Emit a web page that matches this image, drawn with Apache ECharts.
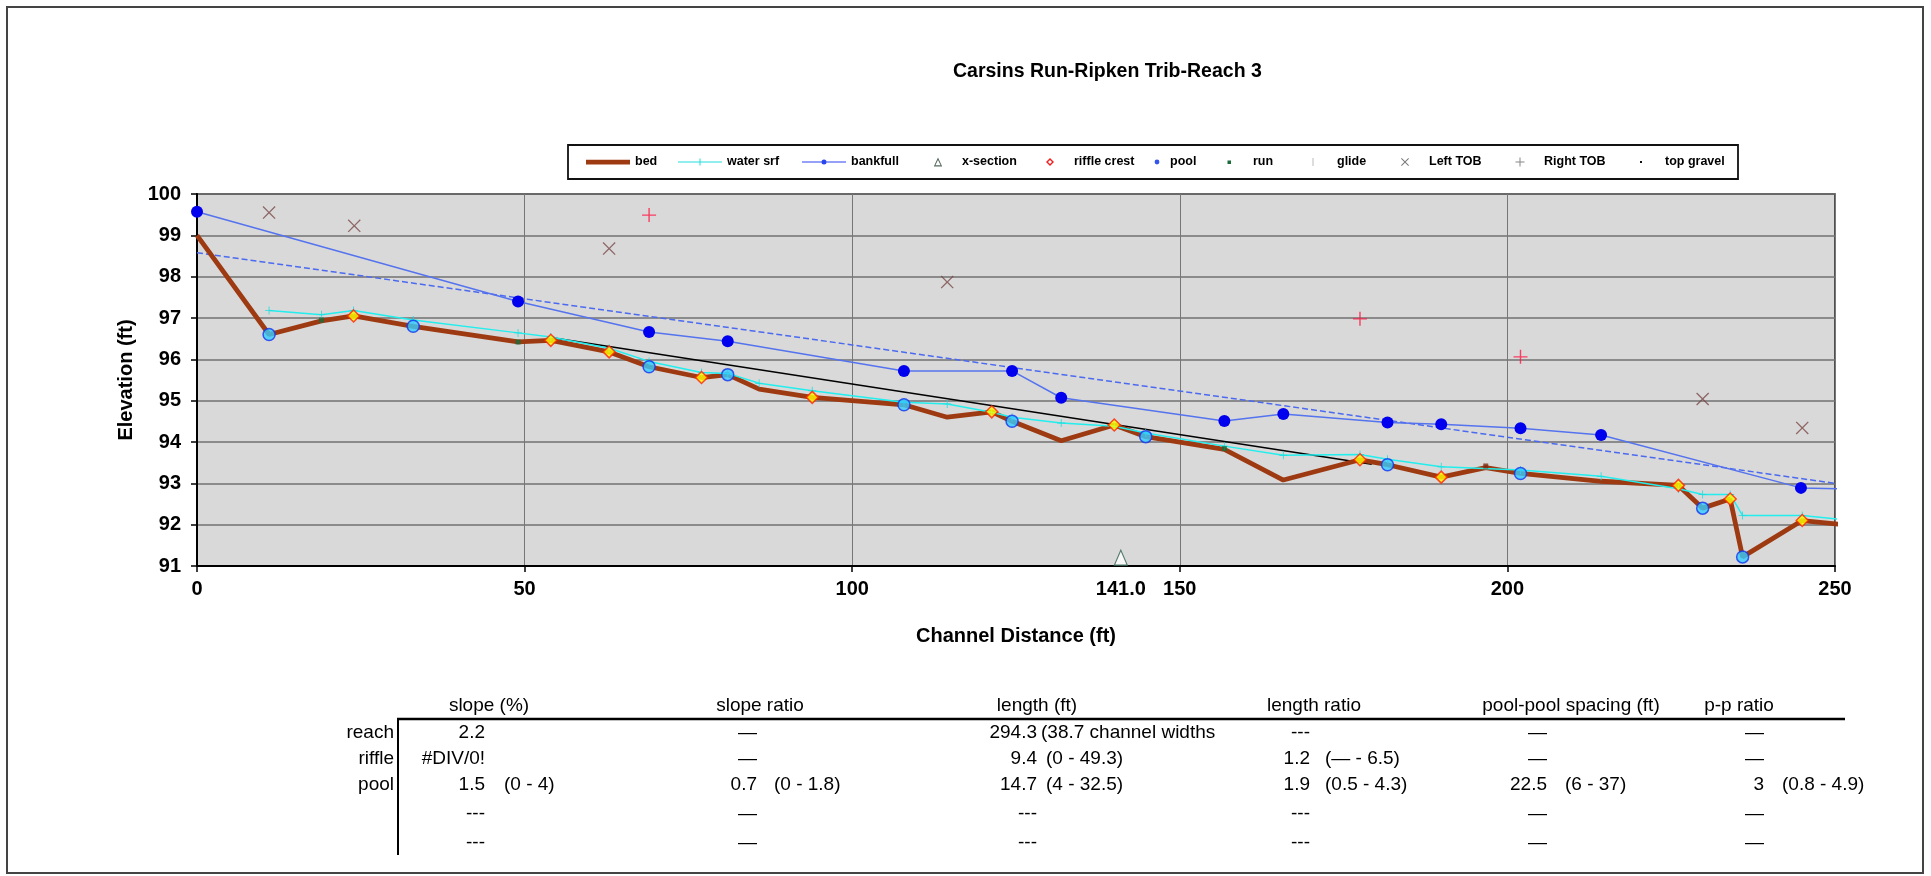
<!DOCTYPE html>
<html><head><meta charset="utf-8">
<script src="https://cdn.jsdelivr.net/npm/echarts@6/dist/echarts.min.js"></script>
<style>html,body{margin:0;padding:0;background:#fff}#c{width:1931px;height:876px}</style>
</head><body><div id="c"></div>
<script>
// ---------------- data ----------------
const chartTitle = 'Carsins Run-Ripken Trib-Reach 3';
const xTicks = [0, 50, 100, 150, 200, 250];
const yTicks = [91, 92, 93, 94, 95, 96, 97, 98, 99, 100];

const bedX = [0, 11.0, 19.0, 23.9, 33.0, 49.0, 54.0, 62.9, 69.0, 77.0, 81.0, 85.8, 93.9, 107.9, 114.5, 121.3, 124.4, 131.9, 140.0, 144.8, 156.8, 165.8, 177.5, 181.7, 189.9, 196.7, 202.0, 214.3, 226.1, 229.8, 234.0, 235.9, 245.0, 254.0];
const bedY = [99.0, 96.6, 96.93, 97.05, 96.8, 96.42, 96.46, 96.18, 95.82, 95.56, 95.63, 95.28, 95.08, 94.9, 94.6, 94.73, 94.5, 94.03, 94.41, 94.13, 93.82, 93.08, 93.57, 93.45, 93.15, 93.38, 93.24, 93.05, 92.95, 92.4, 92.62, 91.22, 92.1, 91.96];

const wsX = [11.0, 19.0, 23.9, 33.0, 49.0, 54.0, 62.9, 69.0, 77.0, 81.0, 85.8, 93.9, 107.9, 114.5, 121.3, 124.4, 131.9, 140.0, 144.8, 156.8, 165.8, 177.5, 181.7, 189.9, 202.0, 214.3, 226.1, 229.8, 234.0, 235.9, 245.0, 254.0];
const wsY = [97.18, 97.08, 97.18, 96.95, 96.64, 96.54, 96.27, 95.95, 95.68, 95.66, 95.42, 95.24, 94.96, 94.92, 94.72, 94.6, 94.46, 94.38, 94.22, 93.9, 93.68, 93.7, 93.58, 93.4, 93.32, 93.17, 92.87, 92.73, 92.73, 92.22, 92.22, 92.08];

const bfX = [0, 49.0, 69.0, 81.0, 107.9, 124.4, 131.9, 156.8, 165.8, 181.7, 189.9, 202.0, 214.3, 244.8, 256.0];
const bfY = [99.57, 97.4, 96.66, 96.44, 95.72, 95.72, 95.07, 94.51, 94.68, 94.47, 94.43, 94.33, 94.17, 92.89, 92.85];

const bfTrendX = [0, 250];
const bfTrendY = [98.58, 93.0];
const bedTrendX = [54.0, 179.3];
const bedTrendY = [96.53, 93.46];

const xsecX = [141.0];
const xsecY = [91.2];

const rcX = [23.9, 54.0, 62.9, 77.0, 93.9, 121.3, 140.0, 177.5, 189.9, 226.1, 234.0, 245.0];
const rcY = [97.05, 96.46, 96.18, 95.56, 95.08, 94.73, 94.41, 93.57, 93.15, 92.95, 92.62, 92.1];

const poolX = [11.0, 33.0, 69.0, 81.0, 107.9, 124.4, 144.8, 181.7, 202.0, 229.8, 235.9];
const poolY = [96.6, 96.8, 95.82, 95.63, 94.9, 94.5, 94.13, 93.45, 93.24, 92.4, 91.22];

const runX = [19.0, 49.0, 156.8];
const runY = [96.95, 96.42, 93.84];
const glideX = [];
const glideY = [];

const ltobX = [11.0, 24.0, 62.9, 114.5, 229.8, 245.0];
const ltobY = [99.55, 99.23, 98.68, 97.87, 95.04, 94.34];
const rtobX = [69.0, 177.5, 202.0];
const rtobY = [99.49, 96.98, 96.06];
const tgX = [196.7];
const tgY = [93.42];

// table
const colHeaders = ['slope (%)', 'slope ratio', 'length (ft)', 'length ratio', 'pool-pool spacing (ft)', 'p-p ratio'];
const rowLabels = ['reach', 'riffle', 'pool', '', ''];
const slopeVals = ['2.2', '#DIV/0!', '1.5', '---', '---'];
const slopeRanges = ['', '', '(0 - 4)', '', ''];
const slopeRatioVals = ['\u2014', '\u2014', '0.7', '\u2014', '\u2014'];
const slopeRatioRanges = ['', '', '(0 - 1.8)', '', ''];
const lengthVals = ['294.3', '9.4', '14.7', '---', '---'];
const lengthRanges = ['(38.7 channel widths', '(0 - 49.3)', '(4 - 32.5)', '', ''];
const lengthRatioVals = ['---', '1.2', '1.9', '---', '---'];
const lengthRatioRanges = ['', '(\u2014 - 6.5)', '(0.5 - 4.3)', '', ''];
const spacingVals = ['\u2014', '\u2014', '22.5', '\u2014', '\u2014'];
const spacingRanges = ['', '', '(6 - 37)', '', ''];
const ppRatioVals = ['\u2014', '\u2014', '3', '\u2014', '\u2014'];
const ppRatioRanges = ['', '', '(0.8 - 4.9)', '', ''];

// ---------------- build ----------------
const zip = (xs, ys) => xs.map((x, i) => [x, ys[i]]);
const FF = 'Arial, "Liberation Sans", sans-serif';
const PLUS = 'path://M4.5,0H5.5V4.5H10V5.5H5.5V10H4.5V5.5H0V4.5H4.5Z';
const CROSS = 'path://M0.7,0L5,4.3L9.3,0L10,0.7L5.7,5L10,9.3L9.3,10L5,5.7L0.7,10L0,9.3L4.3,5L0,0.7Z';

// legend icons, drawn in a 44x14 box
const BOX = 'path://M0,0ZM44,14Z';
const legendItems = [
  {name: 'bed', left: 586, color: '#9E3A12', icon: BOX + 'M0,4.8h44v4.6h-44z'},
  {name: 'water srf', left: 678, color: '#22DDDD', icon: BOX + 'M0,6.4h21.5v1.2h-21.5zM22.5,6.4h21.5v1.2h-21.5zM21.5,3.5h1v7h-1z'},
  {name: 'bankfull', left: 802, color: '#2A44EE', icon: BOX + 'M0,6.4h19.5v1.2h-19.5zM24.5,6.4h19.5v1.2h-19.5zM19.5,7a2.5,2.5 0 1,1 5,0a2.5,2.5 0 1,1 -5,0z'},
  {name: 'x-section', left: 913, color: '#556B5E', icon: BOX + 'M25,2.5L29.2,11.5H20.8ZM25,5L22.4,10.3H27.6Z'},
  {name: 'riffle crest', left: 1025, color: '#EE2222', icon: BOX + 'M25,3L29,7L25,11L21,7ZM25,5L23,7L25,9L27,7Z'},
  {name: 'pool', left: 1121, color: '#3355EE', icon: BOX + 'M33.6,7a2.4,2.4 0 1,1 4.8,0a2.4,2.4 0 1,1 -4.8,0z'},
  {name: 'run', left: 1204, color: '#1A6B3A', icon: BOX + 'M23.5,5.5h3.5v3.5h-3.5z'},
  {name: 'glide', left: 1288, color: '#BBBBBB', icon: BOX + 'M24.5,3h1v8h-1z'},
  {name: 'Left TOB', left: 1380, color: '#777777', icon: BOX + 'M21.7,3L25,6.3L28.3,3L29,3.7L25.7,7L29,10.3L28.3,11L25,7.7L21.7,11L21,10.3L24.3,7L21,3.7Z'},
  {name: 'Right TOB', left: 1495, color: '#888888', icon: BOX + 'M24.5,2.5h1v4h4v1h-4v4h-1v-4h-4v-1h4z'},
  {name: 'top gravel', left: 1616, color: '#111111', icon: BOX + 'M24,6h2v2h-2z'}
];
const legends = legendItems.map(it => ({
  left: it.left, top: 155, padding: 0, itemWidth: 44, itemHeight: 14, itemGap: 0,
  selectedMode: false,
  textStyle: {fontFamily: FF, fontSize: 12.5, fontWeight: 'bold', color: '#000'},
  data: [{name: it.name, icon: it.icon, itemStyle: {color: it.color, borderWidth: 0, opacity: 1}, lineStyle: {width: 0}}]
}));

const chart = echarts.init(document.getElementById('c'), null, {renderer: 'canvas'});

// table graphics
const headerCenters = [489, 760, 1037, 1314, 1571, 1739];
const valRight = [485, 757, 1037, 1310, 1547, 1764];
const rangeLeft = [504, 774, 1046, 1325, 1565, 1782];
const rowYs = [733, 759, 785, 814, 843];
const colVals = [slopeVals, slopeRatioVals, lengthVals, lengthRatioVals, spacingVals, ppRatioVals];
const colRanges = [slopeRanges, slopeRatioRanges, lengthRanges, lengthRatioRanges, spacingRanges, ppRatioRanges];
const TF = '19px ' + FF;
const g = [];
g.push({type: 'rect', shape: {x: 7, y: 7, width: 1916, height: 866}, style: {fill: 'none', stroke: '#444', lineWidth: 2}, silent: true, z: -10});
g.push({type: 'rect', shape: {x: 568, y: 145, width: 1170, height: 34}, style: {fill: '#fff', stroke: '#111', lineWidth: 1.8}, silent: true, z: -5});
colHeaders.forEach((h, i) => g.push({type: 'text', x: headerCenters[i], y: 706, style: {text: h, font: TF, fill: '#000', align: 'center', verticalAlign: 'middle'}}));
g.push({type: 'line', shape: {x1: 397, y1: 719, x2: 1845, y2: 719}, style: {stroke: '#000', lineWidth: 2.5}});
g.push({type: 'line', shape: {x1: 398, y1: 719, x2: 398, y2: 855}, style: {stroke: '#000', lineWidth: 2}});
rowLabels.forEach((r, j) => g.push({type: 'text', x: 394, y: rowYs[j], style: {text: r, font: TF, fill: '#000', align: 'right', verticalAlign: 'middle'}}));
colVals.forEach((vals, i) => {
  vals.forEach((v, j) => g.push({type: 'text', x: valRight[i], y: rowYs[j], style: {text: v, font: TF, fill: '#000', align: 'right', verticalAlign: 'middle'}}));
  colRanges[i].forEach((v, j) => { if (v) g.push({type: 'text', x: rangeLeft[i] - (i === 2 && j === 0 ? 5 : 0), y: rowYs[j], style: {text: v, font: TF, fill: '#000', align: 'left', verticalAlign: 'middle'}}); });
});

const option = {
  animation: false,
  backgroundColor: '#fff',
  title: {text: chartTitle, left: 948, top: 57, textStyle: {fontFamily: FF, fontSize: 19.5, fontWeight: 'bold', color: '#000'}},
  legend: legends,
  grid: {left: 197, right: 96, top: 194, bottom: 310, show: true, backgroundColor: '#D9D9D9', borderColor: '#222', borderWidth: 1.5},
  xAxis: {
    type: 'value', min: xTicks[0], max: xTicks[xTicks.length - 1], interval: 50,
    name: 'Channel Distance (ft)', nameLocation: 'middle', nameGap: 60,
    nameTextStyle: {fontFamily: FF, fontSize: 20, fontWeight: 'bold', color: '#000'},
    axisLine: {show: true, onZero: false, lineStyle: {color: '#000', width: 2}},
    axisTick: {show: true, inside: false, length: 6, lineStyle: {color: '#000', width: 1.5}},
    axisLabel: {fontFamily: FF, fontSize: 20, fontWeight: 'bold', color: '#000', margin: 13},
    splitLine: {show: true, lineStyle: {color: '#777', width: 1}}
  },
  yAxis: {
    type: 'value', min: yTicks[0], max: yTicks[yTicks.length - 1], interval: 1,
    name: 'Elevation (ft)', nameLocation: 'middle', nameGap: 58,
    nameTextStyle: {fontFamily: FF, fontSize: 20, fontWeight: 'bold', color: '#000'},
    axisLine: {show: true, onZero: false, lineStyle: {color: '#000', width: 2}},
    axisTick: {show: true, inside: false, length: 6, lineStyle: {color: '#000', width: 1.5}},
    axisLabel: {fontFamily: FF, fontSize: 20, fontWeight: 'bold', color: '#000', margin: 16},
    splitLine: {show: true, lineStyle: {color: '#707070', width: 1.6}}
  },
  graphic: g,
  series: [
    {name: 'bfTrend', type: 'line', data: zip(bfTrendX, bfTrendY), symbol: 'none', z: 2,
     lineStyle: {color: '#4C6AF0', width: 1.5, type: [6, 3]}},
    {name: 'bedTrend', type: 'line', data: zip(bedTrendX, bedTrendY), symbol: 'none', z: 2,
     lineStyle: {color: '#000', width: 1.5}},
    {name: 'bed', type: 'line', data: zip(bedX, bedY), symbol: 'none', z: 3,
     lineStyle: {color: '#9E3A12', width: 4.8}, itemStyle: {color: '#9E3A12'}},
    {name: 'water srf', type: 'line', data: zip(wsX, wsY), symbol: PLUS, symbolSize: 8, z: 4,
     lineStyle: {color: '#22EEEE', width: 1.5}, itemStyle: {color: '#22DDDD'}},
    {name: 'bankfull', type: 'line', data: zip(bfX, bfY), symbol: 'circle', symbolSize: 12, z: 5,
     lineStyle: {color: '#5573EE', width: 1.5}, itemStyle: {color: '#0000EE'}},
    {name: 'x-section', type: 'scatter', data: zip(xsecX, xsecY), symbol: 'triangle', symbolSize: [13, 15], z: 6,
     itemStyle: {color: '#fff', borderColor: '#2F5F4F', borderWidth: 1.2},
     label: {show: true, position: 'bottom', distance: 14, formatter: p => p.value[0].toFixed(1),
             fontFamily: FF, fontSize: 20, fontWeight: 'bold', color: '#000', textBorderWidth: 0, opacity: 1}},
    {name: 'riffle crest', type: 'scatter', data: zip(rcX, rcY), symbol: 'diamond', symbolSize: 12, z: 7,
     itemStyle: {color: '#FFFF00', borderColor: '#FF2200', borderWidth: 1.5}},
    {name: 'pool', type: 'scatter', data: zip(poolX, poolY), symbol: 'circle', symbolSize: 12, z: 7,
     itemStyle: {color: '#33CCFF', borderColor: '#1133EE', borderWidth: 1.5}},
    {name: 'run', type: 'scatter', data: zip(runX, runY), symbol: 'rect', symbolSize: 5, z: 6,
     itemStyle: {color: '#1A6B3A'}},
    {name: 'glide', type: 'scatter', data: zip(glideX, glideY), symbol: 'rect', symbolSize: [2, 8], z: 6,
     itemStyle: {color: '#CCCCCC'}},
    {name: 'Left TOB', type: 'scatter', data: zip(ltobX, ltobY), symbol: CROSS, symbolSize: 13, z: 6,
     itemStyle: {color: '#7A4848'}},
    {name: 'Right TOB', type: 'scatter', data: zip(rtobX, rtobY), symbol: PLUS, symbolSize: 14, z: 6,
     itemStyle: {color: '#FF1744'}},
    {name: 'top gravel', type: 'scatter', data: zip(tgX, tgY), symbol: 'rect', symbolSize: 5, z: 6,
     itemStyle: {color: '#7A2A10'}}
  ]
};
chart.setOption(option);
</script>
</body></html>
